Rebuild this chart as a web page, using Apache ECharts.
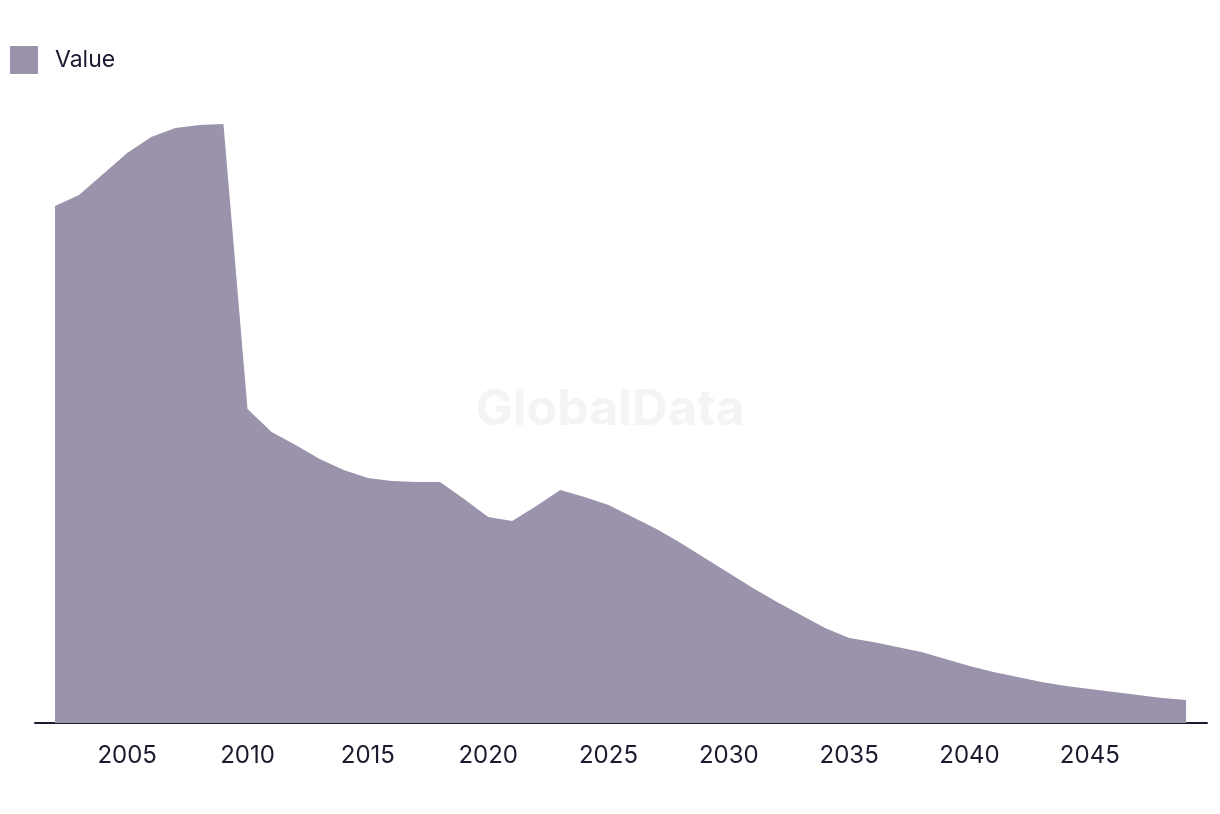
<!DOCTYPE html>
<html>
<head>
<meta charset="utf-8">
<title>Value</title>
<script src="https://cdn.jsdelivr.net/npm/echarts@6/dist/echarts.min.js"></script>
<style>
html, body { margin: 0; padding: 0; background: #fff; }
#chart { width: 1220px; height: 814px; }
</style>
</head>
<body>
<div id="chart"></div>
<script>
// yearly data
const years = [2002, 2003, 2004, 2005, 2006, 2007, 2008, 2009, 2010, 2011,
  2012, 2013, 2014, 2015, 2016, 2017, 2018, 2019, 2020, 2021,
  2022, 2023, 2024, 2025, 2026, 2027, 2028, 2029, 2030, 2031,
  2032, 2033, 2034, 2035, 2036, 2037, 2038, 2039, 2040, 2041,
  2042, 2043, 2044, 2045, 2046, 2047, 2048, 2049]
const values = [517, 528, 549, 570, 586, 595, 598, 599, 314, 291,
  278, 264, 253, 245, 242, 241, 241, 224, 206, 202,
  217, 233, 226, 218, 206, 194, 180, 165, 150, 135,
  121, 108, 95, 85, 81, 76, 71, 64, 57, 51,
  46, 41, 37, 34, 31, 28, 25, 23]
const tickYears = [2005, 2010, 2015, 2020, 2025, 2030, 2035, 2040, 2045]

const fill = '#9b92ab'
const ink = '#1b1a2e'

const chart = echarts.init(document.getElementById('chart'))
chart.setOption({
  animation: false,
  textStyle: { fontFamily: 'Inter' },
  graphic: [{
    type: 'text',
    left: 'center',
    top: 385,
    style: {
      text: 'GlobalData',
      fill: '#f4f4f4',
      font: 'bold 50px Inter'
    },
    z: 0
  }],
  legend: {
    left: 10,
    top: 46,
    padding: 0,
    itemWidth: 28,
    itemHeight: 28,
    icon: 'rect',
    textStyle: { color: ink, fontSize: 23, padding: [0, 0, 0, 12] },
    data: ['Value']
  },
  grid: { left: 35, right: 13, top: 100, bottom: 91 },
  xAxis: {
    type: 'value',
    min: 2001.17,
    max: 2049.87,
    splitLine: { show: false },
    axisTick: { show: false },
    axisLine: { show: true, onZero: false, lineStyle: { color: ink, width: 2 } },
    axisLabel: {
      customValues: tickYears,
      color: ink,
      fontSize: 24,
      margin: 21,
      formatter: v => String(v)
    }
  },
  yAxis: {
    type: 'value',
    min: 0,
    max: 623,
    show: false
  },
  series: [{
    name: 'Value',
    type: 'line',
    data: years.map((y, i) => [y, values[i]]),
    showSymbol: false,
    symbol: 'none',
    itemStyle: { color: fill },
    lineStyle: { width: 0, color: fill },
    areaStyle: { color: fill, opacity: 1 },
    z: 2
  }]
})
</script>
</body>
</html>
